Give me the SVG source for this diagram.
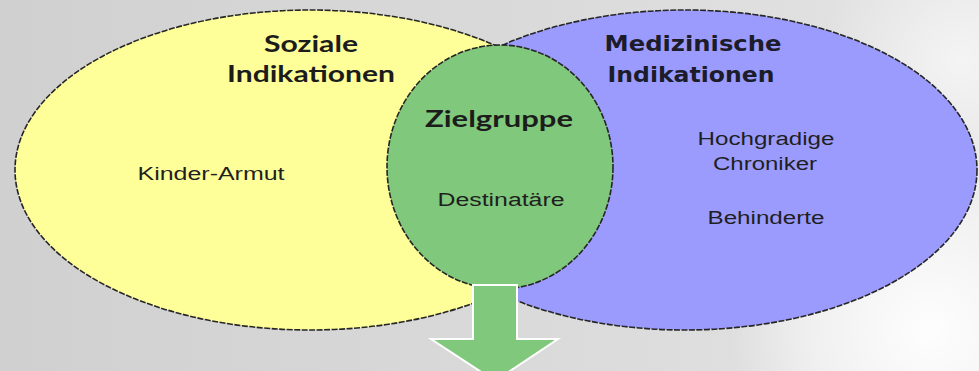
<svg xmlns="http://www.w3.org/2000/svg" width="979" height="371" viewBox="0 0 979 371">
  <defs>
    <linearGradient id="bg" x1="0" y1="0" x2="1" y2="0">
      <stop offset="0" stop-color="#d0d0d0"/>
      <stop offset="0.5" stop-color="#d9d9d9"/>
      <stop offset="1" stop-color="#e4e4e4"/>
    </linearGradient>
    <radialGradient id="glow1" cx="930" cy="330" r="200" gradientUnits="userSpaceOnUse">
      <stop offset="0" stop-color="#ffffff" stop-opacity="0.95"/>
      <stop offset="0.6" stop-color="#ffffff" stop-opacity="0.5"/>
      <stop offset="1" stop-color="#ffffff" stop-opacity="0"/>
    </radialGradient>
    <radialGradient id="glow2" cx="960" cy="60" r="140" gradientUnits="userSpaceOnUse">
      <stop offset="0" stop-color="#ffffff" stop-opacity="0.6"/>
      <stop offset="1" stop-color="#ffffff" stop-opacity="0"/>
    </radialGradient>
    <style>
      .outline { stroke: #262626; stroke-width: 1.6; stroke-dasharray: 6 1.5; }
      .head { font-family: Lato, "Liberation Sans", sans-serif; font-weight: bold; font-size: 23px; fill: #1c1c1c; text-anchor: middle; }
      .head2 { font-family: "DejaVu Sans", "Liberation Sans", sans-serif; font-weight: bold; font-size: 22px; fill: #1c1c2a; text-anchor: middle; }
      .body { font-family: "Liberation Sans", Arial, sans-serif; font-size: 18px; fill: #1f1f1f; text-anchor: middle; }
    </style>
  </defs>
  <rect width="979" height="371" fill="url(#bg)"/>
  <rect width="979" height="371" fill="url(#glow1)"/>
  <rect width="979" height="371" fill="url(#glow2)"/>

  <g id="medizinische">
    <ellipse cx="685" cy="170" rx="292" ry="160" fill="#9b9bfd" class="outline"/>
    <text class="head2" x="693" y="51" textLength="177" lengthAdjust="spacingAndGlyphs">Medizinische</text>
    <text class="head2" x="691" y="82" textLength="167" lengthAdjust="spacingAndGlyphs">Indikationen</text>
    <text class="body" x="766" y="145" textLength="137" lengthAdjust="spacingAndGlyphs">Hochgradige</text>
    <text class="body" x="765" y="170" textLength="104" lengthAdjust="spacingAndGlyphs">Chroniker</text>
    <text class="body" x="766" y="224" textLength="117" lengthAdjust="spacingAndGlyphs">Behinderte</text>
  </g>

  <g id="soziale">
    <ellipse cx="310" cy="170" rx="295" ry="160" fill="#ffff99" class="outline"/>
    <text class="head" x="311" y="52" textLength="94" lengthAdjust="spacingAndGlyphs">Soziale</text>
    <text class="head" x="311" y="82" textLength="168" lengthAdjust="spacingAndGlyphs">Indikationen</text>
    <text class="body" x="211" y="180" textLength="147" lengthAdjust="spacingAndGlyphs">Kinder-Armut</text>
  </g>

  <g id="zielgruppe">
    <ellipse cx="500" cy="167" rx="113" ry="122" fill="#80c87b" class="outline"/>
    <text class="head" x="499" y="127" textLength="148" lengthAdjust="spacingAndGlyphs">Zielgruppe</text>
    <text class="body" x="501" y="206" textLength="127" lengthAdjust="spacingAndGlyphs">Destinatäre</text>
  </g>

  <g id="connectors">
    <polygon points="473,285 517,285 517,339 558,339 495,381 431,339 473,339" fill="#80c87b" stroke="#ffffff" stroke-width="2"/>
  </g>
</svg>
